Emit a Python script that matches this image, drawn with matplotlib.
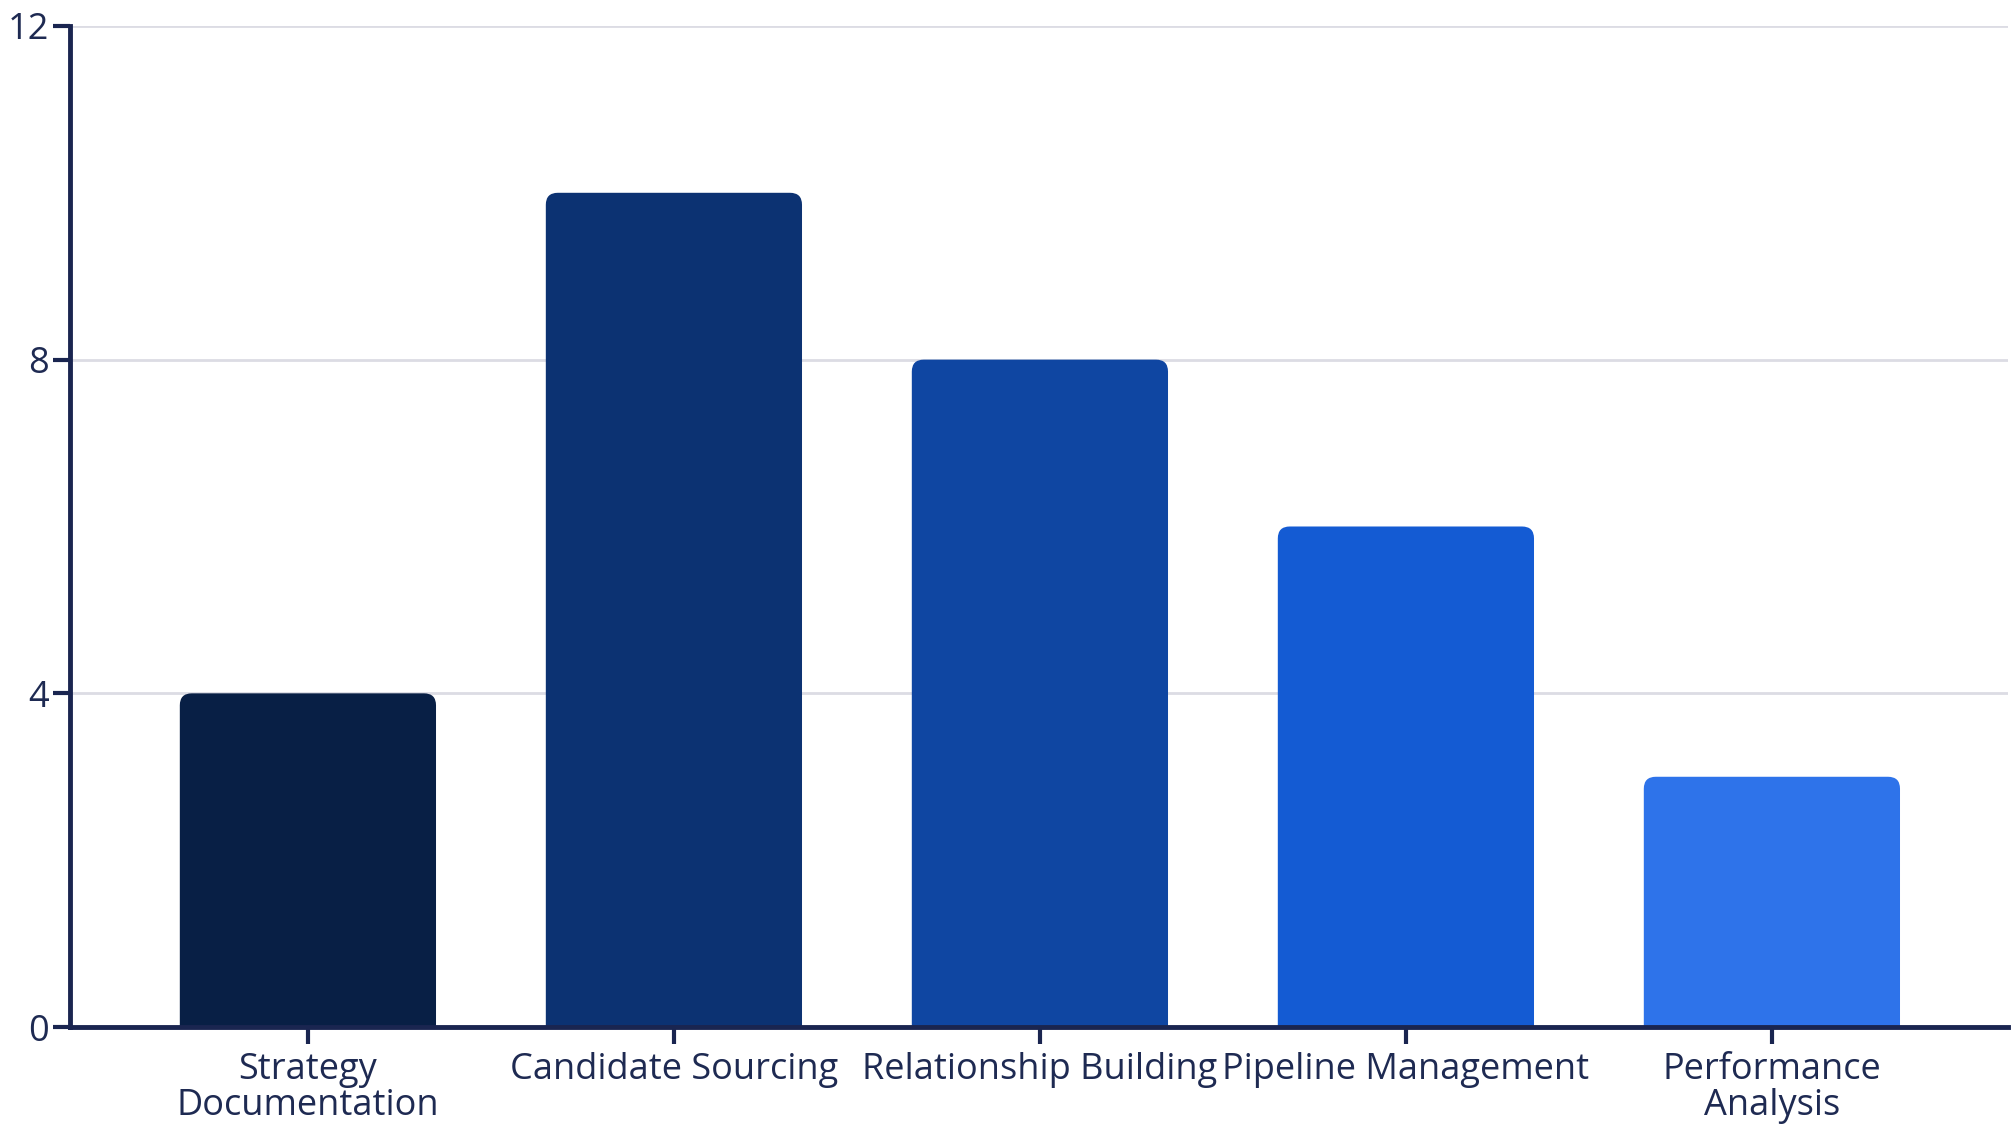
import matplotlib
matplotlib.use('Agg')
import matplotlib.pyplot as plt
from matplotlib.path import Path
from matplotlib.patches import PathPatch

categories = ['Strategy\nDocumentation', 'Candidate Sourcing', 'Relationship Building',
              'Pipeline Management', 'Performance\nAnalysis']
values = [4, 10, 8, 6, 3]
colors = ['#081f45', '#0c3272', '#0f46a2', '#145bd3', '#2e73ea']
y_ticks = [0, 4, 8, 12]

text_color = '#1e2a52'
axis_color = '#1a2550'

plt.rcParams['font.family'] = ['Open Sans', 'DejaVu Sans']

fig = plt.figure(figsize=(20.12, 11.28), dpi=100)
ax = fig.add_axes([0.0348, 0.0895, 0.9632, 0.8875])

bars = ax.bar(range(len(values)), values, width=0.7, color=colors, zorder=2)

ax.set_xlim(-0.65, 4.645)
ax.set_ylim(0, 12)


def rounded_top(x, y, w, h, rx, ry):
    verts = [
        (x, y), (x, y + h - ry),
        (x, y + h), (x + rx, y + h),
        (x + w - rx, y + h),
        (x + w, y + h), (x + w, y + h - ry),
        (x + w, y), (x, y),
    ]
    codes = [Path.MOVETO, Path.LINETO,
             Path.CURVE3, Path.CURVE3,
             Path.LINETO,
             Path.CURVE3, Path.CURVE3,
             Path.LINETO, Path.CLOSEPOLY]
    return Path(verts, codes)


# corner radius ~12px converted to data units
fig.canvas.draw()
px_x = (ax.get_xlim()[1] - ax.get_xlim()[0]) / ax.bbox.width
px_y = (ax.get_ylim()[1] - ax.get_ylim()[0]) / ax.bbox.height
for b in bars:
    p = rounded_top(b.get_x(), b.get_y(), b.get_width(), b.get_height(), 12 * px_x, 12 * px_y)
    ax.add_patch(PathPatch(p, facecolor=b.get_facecolor(), edgecolor='none', zorder=2))
    b.set_visible(False)

ax.set_yticks(y_ticks)
ax.set_yticklabels([str(v) for v in y_ticks])
ax.set_xticks(range(len(categories)))
ax.set_xticklabels(categories, linespacing=1.0)

ax.grid(axis='y', color='#dcdce4', linewidth=2, zorder=0)
ax.set_axisbelow(True)

for s in ['top', 'right']:
    ax.spines[s].set_visible(False)
for s in ['left', 'bottom']:
    ax.spines[s].set_color(axis_color)
    ax.spines[s].set_linewidth(3.5)
    ax.spines[s].set_zorder(3)

ax.tick_params(axis='both', colors=axis_color, labelcolor=text_color,
               labelsize=26, length=12, width=3, pad=6)
ax.tick_params(axis='y', pad=3)

fig.savefig('out.png', dpi=100)
